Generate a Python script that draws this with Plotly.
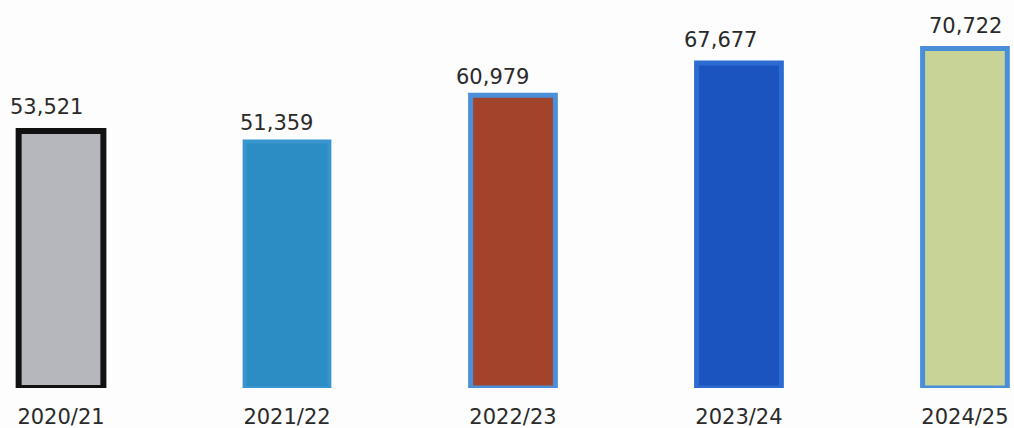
import plotly.graph_objects as go

categories = ["2020/21", "2021/22", "2022/23", "2023/24", "2024/25"]
values = [53521, 51359, 60979, 67677, 70722]
value_labels = ["53,521", "51,359", "60,979", "67,677", "70,722"]

fill_colors = ["#b5b7bd", "#2b8dc3", "#a2432b", "#1b53bf", "#c7d397"]
line_colors = ["#111111", "#3795cf", "#4b8fd8", "#2c6bd0", "#4a8ed8"]
line_widths = [6, 4, 5, 5, 5]
label_dx = [-15, -11, -20, -18, 1]
label_dy = [10, 4, 4, 9, 8]

xpos = list(range(len(categories)))

fig = go.Figure()
fig.add_trace(go.Bar(
    x=xpos, y=values, width=0.375,
    marker=dict(color=fill_colors, line=dict(color=line_colors, width=line_widths)),
    cliponaxis=False, hoverinfo="skip",
))

for i, (v, t) in enumerate(zip(values, value_labels)):
    fig.add_annotation(x=xpos[i], y=v, text=t, showarrow=False,
                       xanchor="center", yanchor="bottom",
                       xshift=label_dx[i], yshift=label_dy[i],
                       font=dict(family="DejaVu Sans", size=21, color="#2a2a2a"))

fig.update_layout(
    width=1014, height=428,
    margin=dict(l=0, r=0, t=0, b=40),
    paper_bgcolor="#fdfdfd", plot_bgcolor="#fdfdfd",
    showlegend=False,
    xaxis=dict(range=[-0.27, 4.217], tickvals=xpos, ticktext=categories,
               showgrid=False, zeroline=False, showline=False, ticks="",
               tickfont=dict(family="DejaVu Sans", size=21, color="#2a2a2a"),
               ticklabelstandoff=14, fixedrange=True),
    yaxis=dict(range=[0, 80800], visible=False, showgrid=False, zeroline=False, fixedrange=True),
)

fig.write_html("out.html")
